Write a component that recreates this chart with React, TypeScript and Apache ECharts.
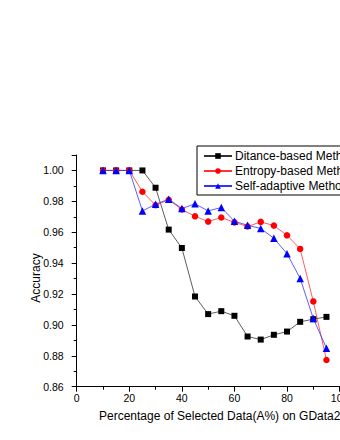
import React, { useEffect, useRef } from "react";
import * as echarts from "echarts";

const xValues = [10, 15, 20, 25, 30, 35, 40, 45, 50, 55, 60, 65, 70, 75, 80, 85, 90, 95];
const distanceBased = [1.0, 1.0, 1.0, 1.0, 0.9888, 0.9617, 0.9498, 0.9184, 0.907, 0.9089, 0.9059, 0.8925, 0.8905, 0.8936, 0.8957, 0.902, 0.9037, 0.9052];
const entropyBased = [1.0, 1.0, 1.0, 0.9862, 0.9775, 0.981, 0.9747, 0.9703, 0.9669, 0.9695, 0.9664, 0.9637, 0.9667, 0.9643, 0.958, 0.9492, 0.9152, 0.8773];
const selfAdaptive = [1.0, 1.0, 1.0, 0.9738, 0.9781, 0.9814, 0.9753, 0.9784, 0.9738, 0.976, 0.9671, 0.9645, 0.9624, 0.9561, 0.9461, 0.9301, 0.9041, 0.8849];
const seriesNames = ["Ditance-based Method", "Entropy-based Method", "Self-adaptive Method"];
const xTitle = "Percentage of Selected Data(A%) on GData2";
const yTitle = "Accuracy";

const FONT = "Liberation Sans, Arial, sans-serif";

export default function App() {
  const ref = useRef<HTMLDivElement>(null);
  useEffect(() => {
    if (!ref.current) return;
    const chart = echarts.init(ref.current, undefined, { renderer: "svg" });
    const pair = (ys: number[]) => xValues.map((x, i) => [x, ys[i]]);
    chart.setOption({
      animation: false,
      backgroundColor: "#fff",
      textStyle: { fontFamily: FONT },
      grid: {
        left: 76.7,
        top: 155,
        right: 0.4,
        bottom: 53.3,
        containLabel: false,
        outerBoundsMode: "none",
      },
      legend: {
        orient: "vertical",
        left: 197,
        top: 146,
        backgroundColor: "#fff",
        borderColor: "#000",
        borderWidth: 1,
        padding: [4, 60, 3, 6],
        itemGap: 3,
        itemWidth: 28,
        itemHeight: 7,
        textStyle: { fontSize: 12, color: "#000", fontFamily: FONT, lineHeight: 12, padding: [0, 0, 0, -2] },
        data: seriesNames,
      },
      xAxis: {
        type: "value",
        min: 0,
        max: 100,
        interval: 20,
        minorTick: { show: true, splitNumber: 2, length: 3, lineStyle: { color: "#000" } },
        axisLine: { show: true, lineStyle: { color: "#000", width: 1 } },
        axisTick: { show: true, length: 5, lineStyle: { color: "#000" } },
        axisLabel: { color: "#000", fontSize: 10.5, margin: 6, fontFamily: FONT, showMaxLabel: true },
        splitLine: { show: false },
      },
      yAxis: {
        type: "value",
        min: 0.86,
        max: 1.01,
        interval: 0.02,
        minorTick: { show: true, splitNumber: 2, length: 3, lineStyle: { color: "#000" } },
        axisLine: { show: true, lineStyle: { color: "#000", width: 1 } },
        axisTick: { show: true, length: 5, lineStyle: { color: "#000" } },
        axisLabel: {
          color: "#000",
          fontSize: 10.5,
          margin: 13,
          fontFamily: FONT,
          showMaxLabel: false,
          formatter: (v: number) => v.toFixed(2),
        },
        splitLine: { show: false },
      },
      graphic: [
        {
          type: "text",
          left: 99,
          top: 410,
          style: { text: xTitle, fontSize: 12, fill: "#000", fontFamily: FONT },
        },
        {
          type: "text",
          x: 36,
          y: 278,
          rotation: Math.PI / 2,
          style: { text: yTitle, fontSize: 12, fill: "#000", fontFamily: FONT, align: "center", verticalAlign: "middle" },
        },
      ],
      series: [
        {
          name: seriesNames[0],
          type: "line",
          data: pair(distanceBased),
          symbol: "rect",
          symbolSize: 6,
          itemStyle: { color: "#000" },
          lineStyle: { color: "#333", width: 0.8 },
        },
        {
          name: seriesNames[1],
          type: "line",
          data: pair(entropyBased),
          symbol: "circle",
          symbolSize: 6.5,
          itemStyle: { color: "#ff0000" },
          lineStyle: { color: "#ff3333", width: 0.8 },
        },
        {
          name: seriesNames[2],
          type: "line",
          data: pair(selfAdaptive),
          symbol: "triangle",
          symbolSize: 7.5,
          itemStyle: { color: "#0000ff" },
          lineStyle: { color: "#3333ff", width: 0.8 },
        },
      ],
    });
    return () => chart.dispose();
  }, []);
  return <div ref={ref} style={{ position: "fixed", left: 0, top: 0, width: 340, height: 440 }} />;
}
